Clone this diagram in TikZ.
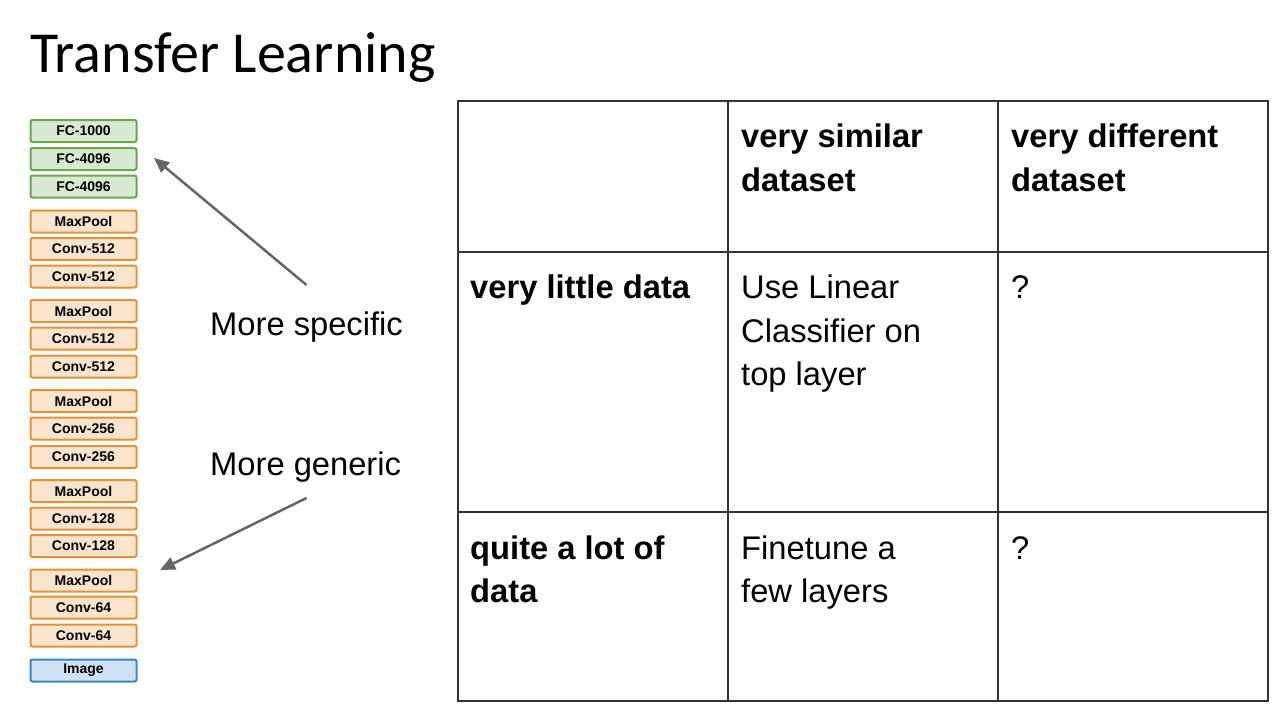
\documentclass[tikz,border=0pt]{standalone}
\usepackage{fontspec}
\setmainfont{Liberation Sans}
\newfontfamily\titlefont{Carlito}
\usetikzlibrary{arrows.meta}
\definecolor{gfill}{HTML}{D9EAD3}\definecolor{gdraw}{HTML}{6AA84F}
\definecolor{ofill}{HTML}{FCE5CD}\definecolor{odraw}{HTML}{E69138}
\definecolor{bfill}{HTML}{CFE2F3}\definecolor{bdraw}{HTML}{3D85C6}
\definecolor{arrgray}{HTML}{666666}
\definecolor{tabline}{HTML}{333333}
\newcommand\twolines[2]{\vtop{\hbox{#1}\hbox{#2}}}
\newcommand\threelines[3]{\vtop{\hbox{#1}\hbox{#2}\hbox{#3}}}
\begin{document}
\begin{tikzpicture}[x=1pt,y=-1pt,
  layer/.style={draw, line width=2pt, rounded corners=2pt, minimum width=106pt, minimum height=22pt, inner sep=0pt, font=\fontsize{14}{14}\selectfont\bfseries},
  fcbox/.style={layer, fill=gfill, draw=gdraw},
  convbox/.style={layer, fill=ofill, draw=odraw},
  imgbox/.style={layer, fill=bfill, draw=bdraw},
  celltext/.style={anchor=base west, inner sep=0pt, font=\fontsize{32.7}{43.5}\selectfont},
  cellbold/.style={celltext, font=\fontsize{32.7}{43.5}\selectfont\bfseries},
  note/.style={anchor=base west, inner sep=0pt, font=\fontsize{32.7}{40}\selectfont},
  pointer/.style={draw=arrgray, line width=2.5pt, -{Triangle[length=15pt,width=13pt]}},
  grid/.style={draw=tabline, line width=2pt}]
\useasboundingbox (0,0) rectangle (1280,720);
\fill[white] (0,0) rectangle (1280,720);
% title
\node[anchor=base west, inner sep=0pt, font=\titlefont\fontsize{58}{58}\selectfont] (title) at (30,72.5) {Transfer Learning};
% layer stack
\node[fcbox] (l1) at (83.5,131) {FC-1000};
\node[fcbox] (l2) at (83.5,159) {FC-4096};
\node[fcbox] (l3) at (83.5,186.5) {FC-4096};
\node[convbox] (l4) at (83.5,221.5) {MaxPool};
\node[convbox] (l5) at (83.5,249) {Conv-512};
\node[convbox] (l6) at (83.5,276.5) {Conv-512};
\node[convbox] (l7) at (83.5,311) {MaxPool};
\node[convbox] (l8) at (83.5,338.5) {Conv-512};
\node[convbox] (l9) at (83.5,366.5) {Conv-512};
\node[convbox] (l10) at (83.5,401) {MaxPool};
\node[convbox] (l11) at (83.5,428.5) {Conv-256};
\node[convbox] (l12) at (83.5,457) {Conv-256};
\node[convbox] (l13) at (83.5,491) {MaxPool};
\node[convbox] (l14) at (83.5,518.5) {Conv-128};
\node[convbox] (l15) at (83.5,546) {Conv-128};
\node[convbox] (l16) at (83.5,580.5) {MaxPool};
\node[convbox] (l17) at (83.5,607.5) {Conv-64};
\node[convbox] (l18) at (83.5,635.5) {Conv-64};
\node[imgbox] (l19) at (83.5,670.5) {Image};
% notes and arrows
\node[note] (spec) at (210,335) {More specific};
\node[note] (gen) at (210,475) {More generic};
\coordinate (s1) at (306.5,285);
\coordinate (t1) at (154,158);
\coordinate (s2) at (306.5,498);
\coordinate (t2) at (160,570);
\draw[pointer] (s1) -- (t1);
\draw[pointer] (s2) -- (t2);
% table
\draw[grid] (458,101) rectangle (1268,700.5);
\draw[grid] (728,101) -- (728,700.5);
\draw[grid] (998,101) -- (998,700.5);
\draw[grid] (458,251.5) -- (1268,251.5);
\draw[grid] (458,511.5) -- (1268,511.5);
\node[cellbold] (h2) at (741,147.5) {\twolines{very similar}{dataset}};
\node[cellbold] (h3) at (1011,147.5) {\twolines{very different}{dataset}};
\node[cellbold] (r1) at (470,298.5) {very little data};
\node[celltext] (c11) at (741,298.5) {\threelines{Use Linear}{Classifier on}{top layer}};
\node[celltext] (c12) at (1011,298.5) {?};
\node[cellbold] (r2) at (470,559) {\twolines{quite a lot of}{data}};
\node[celltext] (c21) at (741,559) {\twolines{Finetune a}{few layers}};
\node[celltext] (c22) at (1011,559) {?};
\end{tikzpicture}
\end{document}
